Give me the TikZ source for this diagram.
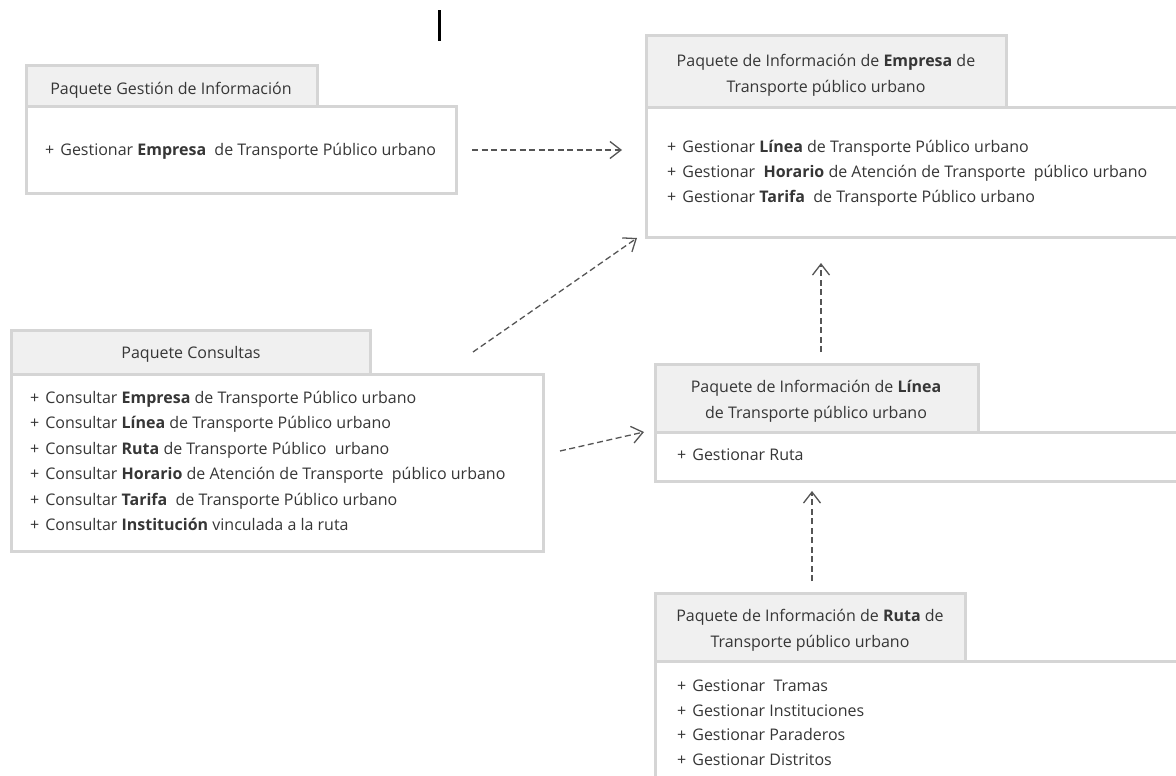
\documentclass[tikz,border=0pt]{standalone}
\usepackage{fontspec}
\setmainfont{Open Sans}
\usetikzlibrary{arrows.meta}

\definecolor{boxline}{HTML}{D5D5D5}
\definecolor{tabfill}{HTML}{F0F0F0}
\definecolor{txt}{HTML}{363636}
\definecolor{dep}{HTML}{555555}

\newcommand{\op}{+\hspace{6pt}}

\tikzset{
  pkgtab/.style={draw=boxline, fill=tabfill, line width=3pt, anchor=north west,
    inner sep=0pt, outer sep=0pt},
  pkgbody/.style={draw=boxline, fill=white, line width=3pt, anchor=north west,
    inner sep=0pt, outer sep=0pt},
  lbl/.style={text=txt, font=\fontsize{16}{26}\selectfont, inner sep=0pt, yshift=-2pt},
  item/.style={lbl, anchor=west, text height=11pt, text depth=4pt},
  pkgtitle/.style={lbl, align=center, anchor=center},
  depends/.style={draw=dep, line width=1.3pt, dash pattern=on 6pt off 3.5pt,
    -{Straight Barb[length=11pt,width=17pt,line width=1.3pt]}},
}

\begin{document}
\begin{tikzpicture}[x=1pt, y=-1pt]
\useasboundingbox (0,0) rectangle (1176,776);
\clip (0,0) rectangle (1176,776);
\fill[white] (0,0) rectangle (1176,776);

% text cursor mark at the top
\fill[black] (438,10) rectangle (441,41);

% Paquete Gestión de Información
\node[pkgtab, minimum width=291pt, minimum height=40pt] (gtab) at (26,66) {};
\node[pkgbody, minimum width=430pt, minimum height=87pt] (gbody) at (26,106) {};
\node[pkgtitle] (gtitle) at (171,88) {Paquete Gestión de Información};
\node[item] (g1) at (45,150) {\op Gestionar \textbf{Empresa}\ \ de Transporte Público urbano};

% Paquete de Información de Empresa
\node[pkgtab, minimum width=360pt, minimum height=71pt] (etab) at (646,36) {};
\node[pkgbody, minimum width=560pt, minimum height=130pt] (ebody) at (646,107) {};
\node[pkgtitle] (etitle) at (826,73) {Paquete de Información de \textbf{Empresa} de\\Transporte público urbano};
\node[item] (e1) at (667,147) {\op Gestionar \textbf{Línea} de Transporte Público urbano};
\node[item] (e2) at (667,172) {\op Gestionar\ \ \textbf{Horario} de Atención de Transporte\ \ público urbano};
\node[item] (e3) at (667,197) {\op Gestionar \textbf{Tarifa}\ \ de Transporte Público urbano};

% Paquete Consultas
\node[pkgtab, minimum width=359pt, minimum height=44pt] (ctab) at (11,330) {};
\node[pkgbody, minimum width=532pt, minimum height=177pt] (cbody) at (11,374) {};
\node[pkgtitle] (ctitle) at (191,352) {Paquete Consultas};
\node[item] (c1) at (30,398) {\op Consultar \textbf{Empresa} de Transporte Público urbano};
\node[item] (c2) at (30,423) {\op Consultar \textbf{Línea} de Transporte Público urbano};
\node[item] (c3) at (30,449) {\op Consultar \textbf{Ruta} de Transporte Público\ \ urbano};
\node[item] (c4) at (30,474) {\op Consultar \textbf{Horario} de Atención de Transporte\ \ público urbano};
\node[item] (c5) at (30,500) {\op Consultar \textbf{Tarifa}\ \ de Transporte Público urbano};
\node[item] (c6) at (30,525) {\op Consultar \textbf{Institución} vinculada a la ruta};

% Paquete de Información de Línea
\node[pkgtab, minimum width=323pt, minimum height=68pt] (ltab) at (655,364) {};
\node[pkgbody, minimum width=560pt, minimum height=49pt] (lbody) at (655,432) {};
\node[pkgtitle] (ltitle) at (816,399) {Paquete de Información de \textbf{Línea}\\de Transporte público urbano};
\node[item] (l1) at (677,455) {\op Gestionar Ruta};

% Paquete de Información de Ruta
\node[pkgtab, minimum width=310pt, minimum height=68pt] (rtab) at (655,593) {};
\node[pkgbody, minimum width=560pt, minimum height=140pt] (rbody) at (655,661) {};
\node[pkgtitle] (rtitle) at (810,628) {Paquete de Información de \textbf{Ruta} de\\Transporte público urbano};
\node[item] (r1) at (677,686) {\op Gestionar\ \ Tramas};
\node[item] (r2) at (677,711) {\op Gestionar Instituciones};
\node[item] (r3) at (677,735) {\op Gestionar Paraderos};
\node[item] (r4) at (677,760) {\op Gestionar Distritos};

% dependency end points
\coordinate (g-out) at (472,150);
\coordinate (e-in-g) at (622,150);
\coordinate (c-out-e) at (473,352);
\coordinate (e-in-c) at (637,238);
\coordinate (c-out-l) at (560,451);
\coordinate (l-in-c) at (644,432);
\coordinate (l-out) at (821,352);
\coordinate (e-in-l) at (821,263);
\coordinate (r-out) at (812,581);
\coordinate (l-in-r) at (812,491);

% dependencies
\draw[depends] (g-out) -- (e-in-g);
\draw[depends] (c-out-e) -- (e-in-c);
\draw[depends] (c-out-l) -- (l-in-c);
\draw[depends] (l-out) -- (e-in-l);
\draw[depends] (r-out) -- (l-in-r);
\end{tikzpicture}
\end{document}
